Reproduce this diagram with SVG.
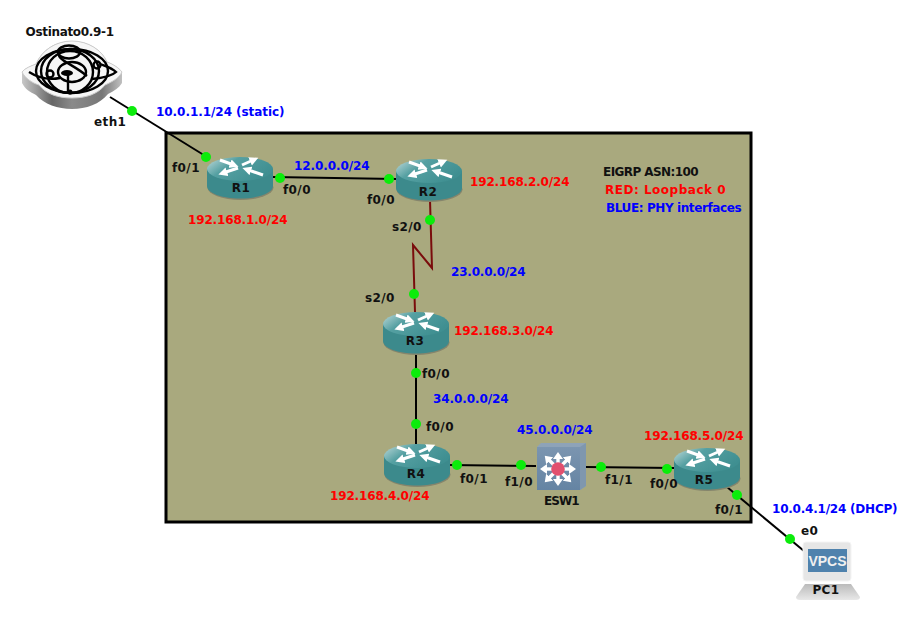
<svg xmlns="http://www.w3.org/2000/svg" width="922" height="621" viewBox="0 0 922 621">
<style>
text{font-family:"DejaVu Sans",sans-serif;font-weight:700;font-size:12px;letter-spacing:.4px;fill:#111}
.b{fill:#0000ff}.r{fill:#ff0000}
.c{fill:none;stroke:#000;stroke-width:2}
.s{fill:none;stroke:#7a0c0c;stroke-width:2}
.d{fill:#0bec0b}
.o{fill:none;stroke:#000;stroke-width:2.4}
.a{stroke:#fff;stroke-width:3;fill:none;marker-end:url(#ah)}
.e{stroke:#fff;stroke-width:3.400;fill:none;marker-end:url(#ah2)}
</style>
<defs>
<marker id="ah" markerUnits="userSpaceOnUse" markerWidth="10" markerHeight="10" refX="1" refY="5" orient="auto"><path d="M0 0.500L9 5L0 9.500Z" fill="#fff"/></marker>
<marker id="ah2" markerUnits="userSpaceOnUse" markerWidth="10" markerHeight="10" refX="1" refY="5" orient="auto"><path d="M0 0L7 5L0 10Z" fill="#fff"/></marker>
<linearGradient id="rt" x1="0" y1="0" x2="1" y2="0.5"><stop offset="0" stop-color="#c4dcdc"/><stop offset="0.4" stop-color="#55a0a2"/><stop offset="1" stop-color="#3f8f91"/></linearGradient>
<linearGradient id="sw" x1="0" y1="0" x2="0" y2="1"><stop offset="0" stop-color="#7b95b0"/><stop offset="1" stop-color="#6584a3"/></linearGradient>
<linearGradient id="base" x1="0" y1="0" x2="1" y2="0"><stop offset="0" stop-color="#c8c8c8"/><stop offset="0.3" stop-color="#666"/><stop offset="0.5" stop-color="#8a8a8a"/><stop offset="0.8" stop-color="#777"/><stop offset="1" stop-color="#c0c0c0"/></linearGradient>
<linearGradient id="pcb" x1="0" y1="0" x2="0" y2="1"><stop offset="0" stop-color="#bbb"/><stop offset="1" stop-color="#e8e8e8"/></linearGradient>
<g id="router">
<ellipse cx="33.500" cy="30.500" rx="33" ry="12.500" fill="#85856c"/>
<path d="M0 12V29C0 36 15 41.500 33 41.500S66 36 66 29V12Z" fill="#3c8a8c"/>
<ellipse cx="33" cy="12" rx="33" ry="12" fill="url(#rt)"/>
<path class="a" d="M13 3L24 7"/>
<path class="a" d="M56 18L43 13.500"/>
<path class="a" d="M35 8L44 4"/>
<path class="a" d="M31 11L19 15"/>
</g>
</defs>
<rect width="922" height="621" fill="#fff"/>
<rect x="166" y="133" width="585" height="389" fill="#a9a97e" stroke="#000" stroke-width="3"/>
<g id="connectors">
<path class="c" d="M110 97L207 157"/>
<path class="c" d="M273 177L396 179"/>
<path class="s" d="M430 200L432 268L413 245L415 312"/>
<path class="c" d="M416 354V444"/>
<path class="c" d="M449 465L536 466"/>
<path class="c" d="M586 467L674 468"/>
<path class="c" d="M727 487L804 551"/>
</g>
<g id="ostinato">
<path d="M22 72C25 68 31 66 36 64C42 50 56 41 72 41C88 41 102 50 107 62C113 64 119 68 122 72V83C119 88 114 91 108 94C100 104 86 109 72 109C58 109 44 104 36 95C30 92 25 89 22 83Z" fill="url(#base)"/>
<path d="M22 72C25 68 31 66 36 64C42 50 56 41 72 41C88 41 102 50 107 62C113 64 119 68 122 72C119 78 112 82 105 85C98 94 86 98 72 98C58 98 46 94 39 85C32 83 25 78 22 72Z" fill="#f6f6f6" stroke="#ccc"/>
<ellipse class="o" cx="72" cy="71" rx="36" ry="22"/>
<ellipse class="o" cx="70" cy="71" rx="29" ry="22"/>
<ellipse class="o" cx="70" cy="72" rx="23" ry="21"/>
<ellipse class="o" cx="69" cy="52" rx="11" ry="6.500"/>
<ellipse class="o" cx="72" cy="72" rx="14" ry="10"/>
<path class="o" d="M29 72C40 79 50 80 60 78M92 79C102 78 112 76 116 72C112 68 105 66 100 64" stroke-width="2"/>
<path class="o" d="M59 50C55 60 70 62 87 76M68 74V92"/>
<circle class="o" cx="97" cy="65" r="3.500" stroke-width="1.600"/>
<circle class="o" cx="50" cy="74" r="3.500" stroke-width="1.600"/>
<ellipse cx="67" cy="73" rx="6" ry="3" fill="#000"/>
<circle cx="70" cy="92" r="2.500" fill="#000"/>
<text x="70" y="36" text-anchor="middle" textLength="89">Ostinato0.9-1</text>
</g>
<g id="R1"><use href="#router" x="207" y="157"/><text x="241" y="192" text-anchor="middle">R1</text></g>
<g id="R2"><use href="#router" x="396" y="159"/><text x="428" y="196" text-anchor="middle">R2</text></g>
<g id="R3"><use href="#router" x="383" y="312"/><text x="415" y="345" text-anchor="middle">R3</text></g>
<g id="R4"><use href="#router" x="384" y="444"/><text x="416" y="478" text-anchor="middle">R4</text></g>
<g id="R5"><use href="#router" x="674" y="448"/><text x="704" y="484" text-anchor="middle">R5</text></g>
<g id="ESW1">
<path d="M537 447L541 443H586V486L580 490Z" fill="#8ea3b8"/>
<path d="M580 447L586 443V486L580 490Z" fill="#7f97ae"/>
<rect x="537" y="447" width="43" height="43" fill="url(#sw)"/>
<path class="e" d="M558 469V458"/><path class="e" d="M558 469V480"/>
<path class="e" d="M558 469H546"/><path class="e" d="M558 469H570"/>
<path class="e" d="M558 469L549 460"/><path class="e" d="M558 469L567 460"/>
<path class="e" d="M558 469L549 478"/><path class="e" d="M558 469L567 478"/>
<circle cx="558" cy="469" r="6.800" fill="#e2506e"/>
<text x="544" y="505" textLength="36">ESW1</text>
</g>
<g id="PC1">
<path d="M805 584H851L860 597Q860 600 856 600H800Q796 600 796 597Z" fill="url(#pcb)"/>
<rect x="803" y="542" width="48" height="39" rx="3" fill="#e6e6e6" stroke="#f4f4f4"/>
<rect x="808" y="549" width="39" height="23" fill="#4f82ad"/>
<text x="827.500" y="566" text-anchor="middle" style="fill:#f0f0f0;font-family:'Liberation Sans',sans-serif;font-size:14px;letter-spacing:0">VPCS</text>
<text x="826" y="594" text-anchor="middle">PC1</text>
</g>
<g id="dots">
<circle class="d" cx="132" cy="111" r="5"/><circle class="d" cx="206" cy="157" r="5"/>
<circle class="d" cx="280" cy="178" r="5"/><circle class="d" cx="389" cy="179" r="5"/>
<circle class="d" cx="430" cy="220" r="5"/><circle class="d" cx="414" cy="294" r="5"/>
<circle class="d" cx="416" cy="373" r="5"/><circle class="d" cx="416" cy="424" r="5"/>
<circle class="d" cx="457" cy="465" r="5"/><circle class="d" cx="521" cy="465" r="5"/>
<circle class="d" cx="601" cy="467" r="5"/><circle class="d" cx="667" cy="469" r="5"/>
<circle class="d" cx="737" cy="495" r="5"/><circle class="d" cx="790" cy="539" r="5"/>
</g>
<g id="labels">
<text x="94" y="126">eth1</text>
<text x="172" y="172">f0/1</text>
<text x="283" y="194">f0/0</text>
<text x="367" y="204">f0/0</text>
<text x="392" y="231">s2/0</text>
<text x="365" y="302">s2/0</text>
<text x="422" y="378">f0/0</text>
<text x="426" y="431">f0/0</text>
<text x="460" y="483">f0/1</text>
<text x="505" y="486">f1/0</text>
<text x="605" y="484">f1/1</text>
<text x="650" y="488">f0/0</text>
<text x="715" y="514">f0/1</text>
<text x="801" y="535">e0</text>
<text x="603" y="176" textLength="96">EIGRP ASN:100</text>
<text class="r" x="605" y="194" textLength="121">RED: Loopback 0</text>
<text class="b" x="606" y="212" textLength="136">BLUE: PHY interfaces</text>
<text class="b" x="156" y="116" textLength="129">10.0.1.1/24 (static)</text>
<text class="b" x="294" y="170" textLength="76">12.0.0.0/24</text>
<text class="b" x="451" y="276" textLength="75">23.0.0.0/24</text>
<text class="b" x="433" y="403" textLength="76">34.0.0.0/24</text>
<text class="b" x="517" y="434" textLength="76">45.0.0.0/24</text>
<text class="b" x="772" y="513" textLength="126">10.0.4.1/24 (DHCP)</text>
<text class="r" x="188" y="224" textLength="100">192.168.1.0/24</text>
<text class="r" x="470" y="186" textLength="100">192.168.2.0/24</text>
<text class="r" x="454" y="335" textLength="100">192.168.3.0/24</text>
<text class="r" x="330" y="500" textLength="100">192.168.4.0/24</text>
<text class="r" x="644" y="440" textLength="100">192.168.5.0/24</text>
</g>
</svg>
